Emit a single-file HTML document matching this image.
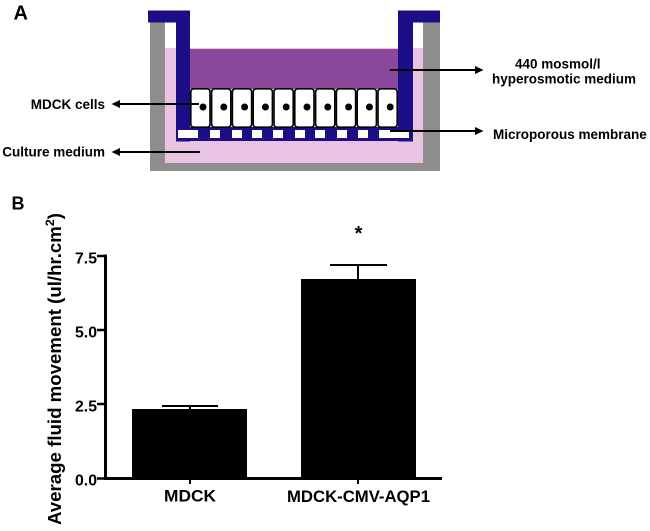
<!DOCTYPE html>
<html>
<head>
<meta charset="utf-8">
<style>
  html, body { margin: 0; padding: 0; background: #ffffff; }
  svg { display: block; }
  text { font-family: "Liberation Sans", Arial, sans-serif; font-weight: bold; fill: #000; }
</style>
</head>
<body>
<svg width="650" height="531" viewBox="0 0 650 531" xmlns="http://www.w3.org/2000/svg">
  <rect x="0" y="0" width="650" height="531" fill="#ffffff"/>

  <!-- Panel A -->
  <text x="13.5" y="19.5" font-size="20">A</text>

  <!-- gray outer well -->
  <rect x="150" y="22" width="15" height="149" fill="#8e8e8e"/>
  <rect x="423" y="22" width="17" height="149" fill="#8e8e8e"/>
  <rect x="150" y="163" width="290" height="8" fill="#8e8e8e"/>
  <!-- pink culture medium -->
  <rect x="165" y="48" width="258" height="115" fill="#e9c4e2"/>

  <!-- blue insert -->
  <rect x="148" y="10.5" width="42" height="12" fill="#1b0e87"/>
  <rect x="176" y="10.5" width="14" height="131" fill="#1b0e87"/>
  <rect x="398" y="10.5" width="42" height="12" fill="#1b0e87"/>
  <rect x="398" y="10.5" width="15" height="131" fill="#1b0e87"/>
  <rect x="176" y="127" width="237" height="14" fill="#1b0e87"/>

  <!-- purple medium -->
  <rect x="190" y="49" width="208" height="40" fill="#8b4799"/>

  <!-- pores -->
  <g fill="#ffffff">
    <rect x="178" y="130" width="20" height="8"/>
    <rect x="210" y="130" width="10" height="8"/>
    <rect x="232" y="130" width="10" height="8"/>
    <rect x="252" y="130" width="10" height="8"/>
    <rect x="273" y="130" width="10" height="8"/>
    <rect x="295" y="130" width="10" height="8"/>
    <rect x="315" y="130" width="10" height="8"/>
    <rect x="337" y="130" width="10" height="8"/>
    <rect x="358" y="130" width="10" height="8"/>
    <rect x="379" y="130" width="30" height="8"/>
  </g>

  <!-- cells -->
  <g fill="#ffffff" stroke="#000" stroke-width="1.6">
    <rect x="190.8" y="88.8" width="19.2" height="38.4" rx="3"/>
    <rect x="211.6" y="88.8" width="19.2" height="38.4" rx="3"/>
    <rect x="232.4" y="88.8" width="19.2" height="38.4" rx="3"/>
    <rect x="253.2" y="88.8" width="19.2" height="38.4" rx="3"/>
    <rect x="274.0" y="88.8" width="19.2" height="38.4" rx="3"/>
    <rect x="294.8" y="88.8" width="19.2" height="38.4" rx="3"/>
    <rect x="315.6" y="88.8" width="19.2" height="38.4" rx="3"/>
    <rect x="336.4" y="88.8" width="19.2" height="38.4" rx="3"/>
    <rect x="357.2" y="88.8" width="19.2" height="38.4" rx="3"/>
    <rect x="378.0" y="88.8" width="19.2" height="38.4" rx="3"/>
  </g>
  <g fill="#000">
    <circle cx="203.0" cy="107" r="3.5"/>
    <circle cx="223.8" cy="107" r="3.5"/>
    <circle cx="244.6" cy="107" r="3.5"/>
    <circle cx="265.4" cy="107" r="3.5"/>
    <circle cx="286.2" cy="107" r="3.5"/>
    <circle cx="307.0" cy="107" r="3.5"/>
    <circle cx="327.8" cy="107" r="3.5"/>
    <circle cx="348.6" cy="107" r="3.5"/>
    <circle cx="369.4" cy="107" r="3.5"/>
    <circle cx="390.2" cy="107" r="3.5"/>
  </g>

  <!-- arrows -->
  <g stroke="#000" stroke-width="2">
    <line x1="118" y1="104" x2="199" y2="104"/>
    <line x1="118" y1="152" x2="200" y2="152"/>
    <line x1="390" y1="70" x2="477" y2="70"/>
    <line x1="390" y1="131" x2="477" y2="131"/>
  </g>
  <g fill="#000">
    <polygon points="111.5,104 120,100 120,108"/>
    <polygon points="111.5,152 120,148 120,156"/>
    <polygon points="483.5,70 475,66 475,74"/>
    <polygon points="483.5,131 475,127 475,135"/>
  </g>

  <text x="105" y="109" font-size="13.5" text-anchor="end">MDCK cells</text>
  <text x="105" y="156.5" font-size="13.5" text-anchor="end">Culture medium</text>
  <text x="515" y="68.5" font-size="13.5">440 mosmol/l</text>
  <text x="492" y="83.5" font-size="13.5">hyperosmotic medium</text>
  <text x="493" y="139" font-size="13.5">Microporous membrane</text>

  <!-- Panel B -->
  <text x="11.5" y="209.5" font-size="18">B</text>

  <!-- y axis label -->
  <text transform="translate(61,369) rotate(-90)" font-size="18" text-anchor="middle" textLength="312" lengthAdjust="spacingAndGlyphs">Average fluid movement (ul/hr.cm<tspan font-size="12" dy="-7">2</tspan><tspan dy="7">)</tspan></text>

  <!-- axes -->
  <g stroke="#000">
    <line x1="105.5" y1="254.5" x2="105.5" y2="480" stroke-width="3"/>
    <line x1="104" y1="478.5" x2="442" y2="478.5" stroke-width="3"/>
    <line x1="97" y1="256" x2="105" y2="256" stroke-width="2.5"/>
    <line x1="97" y1="330" x2="105" y2="330" stroke-width="2.5"/>
    <line x1="97" y1="404" x2="105" y2="404" stroke-width="2.5"/>
    <line x1="97" y1="478.5" x2="105" y2="478.5" stroke-width="2.5"/>
    <line x1="190" y1="478" x2="190" y2="484" stroke-width="2"/>
    <line x1="358" y1="478" x2="358" y2="484" stroke-width="2"/>
  </g>

  <text x="75" y="263.5" font-size="16" textLength="22" lengthAdjust="spacingAndGlyphs">7.5</text>
  <text x="75" y="337.5" font-size="16" textLength="22" lengthAdjust="spacingAndGlyphs">5.0</text>
  <text x="75" y="411.5" font-size="16" textLength="22" lengthAdjust="spacingAndGlyphs">2.5</text>
  <text x="75" y="485.5" font-size="16" textLength="22" lengthAdjust="spacingAndGlyphs">0.0</text>

  <!-- bars -->
  <rect x="132" y="409" width="115" height="70" fill="#000"/>
  <rect x="301" y="279" width="115" height="200" fill="#000"/>

  <!-- error bars -->
  <g stroke="#000" stroke-width="2">
    <line x1="190" y1="406" x2="190" y2="410"/>
    <line x1="162" y1="406" x2="218" y2="406"/>
    <line x1="358" y1="265" x2="358" y2="280"/>
    <line x1="330" y1="265" x2="387" y2="265"/>
  </g>

  <text x="358.5" y="240" font-size="20" text-anchor="middle">*</text>

  <text x="164" y="501.5" font-size="16.5" textLength="52" lengthAdjust="spacingAndGlyphs">MDCK</text>
  <text x="287" y="502" font-size="16.5" textLength="143" lengthAdjust="spacingAndGlyphs">MDCK-CMV-AQP1</text>
</svg>
</body>
</html>
